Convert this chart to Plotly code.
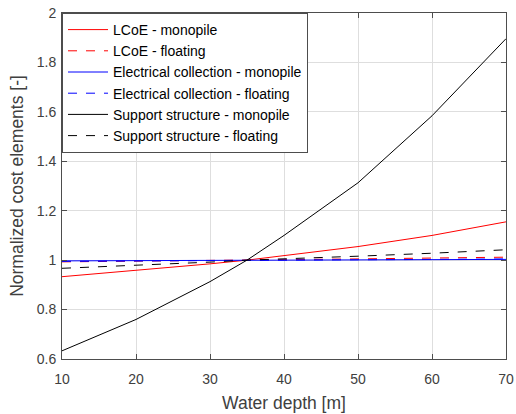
import plotly.graph_objects as go

depth = [10, 20, 30, 35, 40, 50, 60, 70]
lcoe_mono = [0.933, 0.958, 0.985, 1.0, 1.018, 1.055, 1.100, 1.155]
lcoe_float = [0.993, 0.995, 0.998, 1.0, 1.002, 1.005, 1.008, 1.012]
elec_mono = [0.997, 0.998, 0.999, 1.0, 1.0, 1.001, 1.002, 1.003]
elec_float = [0.995, 0.996, 0.998, 1.0, 1.001, 1.002, 1.003, 1.005]
supp_mono = [0.633, 0.760, 0.913, 1.0, 1.100, 1.313, 1.584, 1.896]
supp_float = [0.967, 0.978, 0.992, 1.0, 1.005, 1.016, 1.028, 1.042]

names = ["LCoE - monopile", "LCoE - floating", "Electrical collection - monopile",
         "Electrical collection - floating", "Support structure - monopile",
         "Support structure - floating"]
series = [lcoe_mono, lcoe_float, elec_mono, elec_float, supp_mono, supp_float]
colors = ["#ff0000", "#ff0000", "#0000ff", "#0000ff", "#000000", "#000000"]
dashes = ["solid", "dash", "solid", "dash", "solid", "dash"]

fig = go.Figure()
for n, s, c, d in zip(names, series, colors, dashes):
    fig.add_trace(go.Scatter(x=depth, y=s, name=n, mode="lines",
                             line=dict(color=c, width=1, dash=d)))

FONT = "Liberation Sans, Arial"
axis_common = dict(showline=True, linecolor="#4d4d4d", linewidth=1, mirror="ticks",
                   ticks="inside", ticklen=5, tickcolor="#4d4d4d",
                   showgrid=True, gridcolor="#dedede", gridwidth=1, zeroline=False,
                   automargin=False,
                   tickfont=dict(family=FONT, size=14, color="#404040"),
                   title_font=dict(family=FONT, size=17.5, color="#404040"))

fig.update_layout(
    width=516, height=414,
    margin=dict(l=62, r=10, t=13, b=55),
    plot_bgcolor="white", paper_bgcolor="white",
    xaxis=dict(range=[10, 70], dtick=10, ticklabelstandoff=7,
               title=dict(text="Water depth [m]", standoff=10), **axis_common),
    yaxis=dict(range=[0.6, 2], dtick=0.2, tickformat="~g", ticklabelstandoff=2,
               title=dict(text="Normalized cost elements [-]", standoff=8), **axis_common),
    legend=dict(x=0, y=1, xanchor="left", yanchor="top", bgcolor="white",
                bordercolor="#4d4d4d", borderwidth=1, tracegroupgap=0, itemwidth=40,
                font=dict(family=FONT, size=14, color="#000000")),
)

fig.write_html("out.html", config={"displayModeBar": False},
               post_script="document.body.style.margin='0';")
